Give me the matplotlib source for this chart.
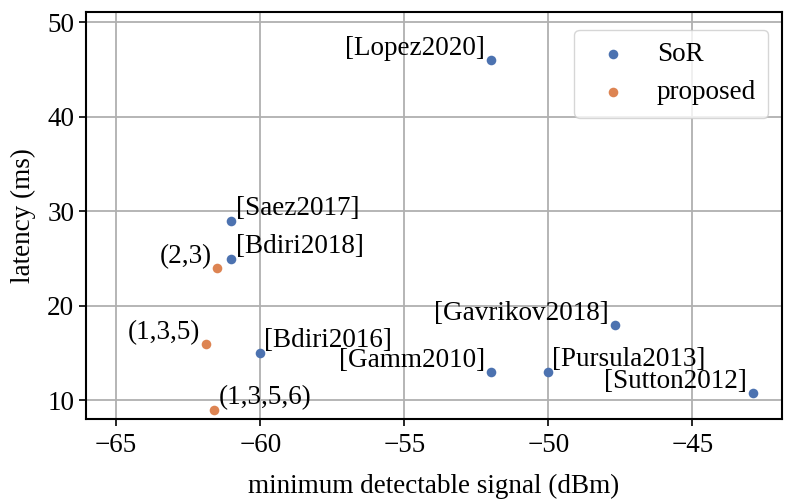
import matplotlib
matplotlib.use("Agg")
import matplotlib.pyplot as plt

# ── DATI ────────────────────────────────────────────────────────────────────
sor_labels = ["[Lopez2020]", "[Saez2017]", "[Bdiri2018]", "[Bdiri2016]",
              "[Gamm2010]", "[Pursula2013]", "[Gavrikov2018]", "[Sutton2012]"]
sor_mds = [-52, -61, -61, -60, -52, -50, -47.7, -42.9]
sor_lat = [46, 29, 25, 15, 13, 13, 18, 10.8]
sor_side = ["left", "right", "right", "right", "left", "right", "left", "left"]

prop_labels = ["(2,3)", "(1,3,5)", "(1,3,5,6)"]
prop_mds = [-61.5, -61.9, -61.6]
prop_lat = [24, 16, 9]
prop_side = ["left", "left", "right"]

BLUE = "#4C72B0"
ORANGE = "#DD8452"
FS = 19.5

plt.rcParams["font.family"] = ["Liberation Serif", "DejaVu Serif"]
plt.rcParams["font.size"] = FS

fig, ax = plt.subplots(figsize=(7.96, 5.04), dpi=100)
ax.set_axisbelow(True)
ax.grid(True, color="#b0b0b0", linewidth=1.3)

ax.scatter(sor_mds, sor_lat, s=48, color=BLUE, label="SoR", zorder=3, linewidths=0)
ax.scatter(prop_mds, prop_lat, s=48, color=ORANGE, label="proposed", zorder=3, linewidths=0)


def etichetta(x, y, testo, lato):
    if lato == "right":
        ax.annotate(testo, (x, y), xytext=(3, 0), textcoords="offset points",
                    ha="left", va="bottom", fontsize=FS)
    else:
        ax.annotate(testo, (x, y), xytext=(-4, -1), textcoords="offset points",
                    ha="right", va="bottom", fontsize=FS)


for x, y, t, s in zip(sor_mds, sor_lat, sor_labels, sor_side):
    etichetta(x, y, t, s)
for x, y, t, s in zip(prop_mds, prop_lat, prop_labels, prop_side):
    etichetta(x, y, t, s)

ax.set_xlim(-66.05, -41.9)
ax.set_ylim(8.0, 51.05)
ax.set_xticks([-65, -60, -55, -50, -45])
ax.set_yticks([10, 20, 30, 40, 50])
ax.set_xticklabels(["\u221265", "\u221260", "\u221255", "\u221250", "\u221245"])
for sp in ax.spines.values():
    sp.set_color("black")
    sp.set_linewidth(1.5)
ax.tick_params(length=5, width=1.2, labelsize=FS)
ax.tick_params(axis="x", pad=5)

ax.set_xlabel("minimum detectable signal (dBm)", fontsize=FS, labelpad=11)
ax.set_ylabel("latency (ms)", fontsize=FS, labelpad=8)

ax.legend(loc="upper right", fontsize=FS, framealpha=0.8, edgecolor="#cccccc",
          handletextpad=0.6, borderpad=0.45, labelspacing=0.5,
          bbox_to_anchor=(1.0, 0.99))

fig.subplots_adjust(left=0.108, right=0.982, top=0.976, bottom=0.168)
plt.savefig("out.png", dpi=100)
plt.close()
